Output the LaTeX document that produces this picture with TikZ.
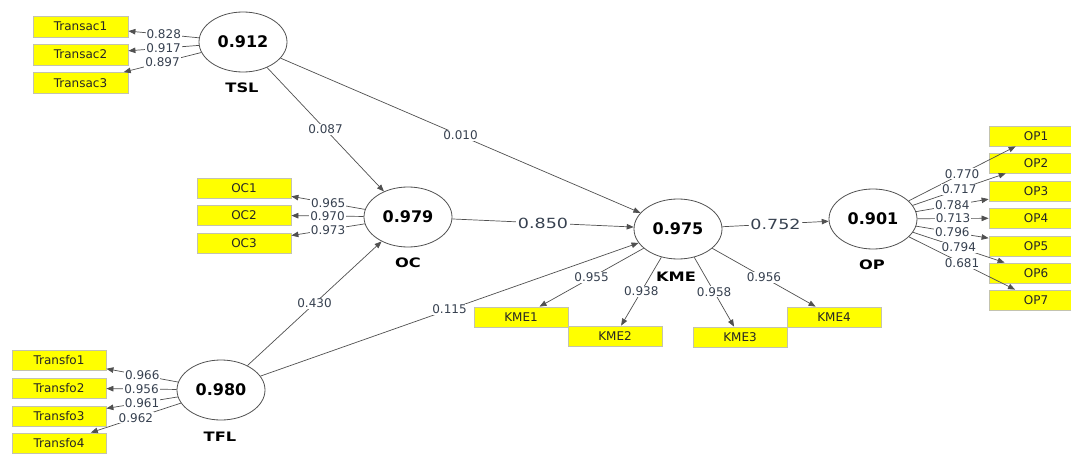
\documentclass[tikz,border=0pt]{standalone}
\usepackage{fontspec}
\setmainfont{DejaVu Sans}
\newfontfamily\stretchfont[FakeStretch=1.25]{DejaVu Sans}
\usetikzlibrary{arrows.meta,shapes.geometric}

\definecolor{boxyellow}{RGB}{255,255,0}
\definecolor{boxedge}{RGB}{195,195,175}
\definecolor{linegray}{RGB}{80,80,80}
\definecolor{numcol}{RGB}{55,65,80}

\tikzset{
  latent/.style={shape=ellipse, draw=linegray, line width=0.8pt, fill=white,
    minimum width=88pt, minimum height=60pt, inner sep=0pt,
    font=\fontsize{16}{18}\selectfont\bfseries},
  indicator/.style={draw=boxedge, line width=0.8pt, fill=boxyellow,
    minimum width=94pt, minimum height=20pt, inner sep=0pt,
    font=\fontsize{12}{14}\selectfont, text=black!85},
  lvname/.style={font=\stretchfont\fontsize{13}{15}\selectfont\bfseries},
  load/.style={draw=linegray, line width=0.7pt,
    -{Triangle[length=7pt,width=5.5pt]}},
  w/.style={fill=white, inner sep=1pt, text=numcol,
    font=\fontsize{12}{14}\selectfont},
  wbig/.style={fill=white, inner sep=1.5pt, text=numcol,
    font=\stretchfont\fontsize{14}{16}\selectfont},
}

\begin{document}
\begin{tikzpicture}[x=1pt,y=-1pt]
\useasboundingbox (0,0) rectangle (1071,455);
\fill[white] (0,0) rectangle (1071,455);
\clip (0,0) rectangle (1071,455);

% latent variables
\node[latent] (TSL) at (243,42) {0.912};
\node[latent] (OC)  at (408,217) {0.979};
\node[latent] (TFL) at (221,390) {0.980};
\node[latent] (KME) at (678,229) {0.975};
\node[latent] (OP)  at (873,219) {0.901};

\node[lvname] (TSLn) at (242,88)  {TSL};
\node[lvname] (OCn)  at (408,263) {OC};
\node[lvname] (TFLn) at (220,437) {TFL};
\node[lvname] (KMEn) at (676,277) {KME};
\node[lvname] (OPn)  at (872,265) {OP};

% indicators
\node[indicator, minimum width=95pt, minimum height=21pt] (Transac1) at (80.5,26.5) {Transac1};
\node[indicator, minimum width=95pt, minimum height=21pt] (Transac2) at (80.5,54.5) {Transac2};
\node[indicator, minimum width=95pt, minimum height=21pt] (Transac3) at (80.5,83)   {Transac3};

\node[indicator] (OC1) at (244,188) {OC1};
\node[indicator] (OC2) at (244,215) {OC2};
\node[indicator] (OC3) at (244,243) {OC3};

\node[indicator] (Transfo1) at (59,360) {Transfo1};
\node[indicator] (Transfo2) at (59,388) {Transfo2};
\node[indicator] (Transfo3) at (59,416) {Transfo3};
\node[indicator] (Transfo4) at (59,443) {Transfo4};

\node[indicator] (KME1) at (521,317) {KME1};
\node[indicator] (KME2) at (615,336) {KME2};
\node[indicator] (KME3) at (740,337) {KME3};
\node[indicator] (KME4) at (834,317) {KME4};

\node[indicator] (OP1) at (1036,136) {OP1};
\node[indicator] (OP2) at (1036,163) {OP2};
\node[indicator] (OP3) at (1036,191) {OP3};
\node[indicator] (OP4) at (1036,218) {OP4};
\node[indicator] (OP5) at (1036,246) {OP5};
\node[indicator] (OP6) at (1036,273) {OP6};
\node[indicator] (OP7) at (1036,300) {OP7};

% outer loadings
\draw[load] (TSL) -- node[w]{0.828} (Transac1);
\draw[load] (TSL) -- node[w]{0.917} (Transac2);
\draw[load] (TSL) -- node[w]{0.897} (Transac3);

\draw[load] (OC) -- node[w]{0.965} (OC1);
\draw[load] (OC) -- node[w]{0.970} (OC2);
\draw[load] (OC) -- node[w]{0.973} (OC3);

\draw[load] (TFL) -- node[w]{0.966} (Transfo1);
\draw[load] (TFL) -- node[w]{0.956} (Transfo2);
\draw[load] (TFL) -- node[w]{0.961} (Transfo3);
\draw[load] (TFL) -- node[w]{0.962} (Transfo4);

\draw[load] (KME) -- node[w]{0.955} (KME1);
\draw[load] (KME) -- node[w]{0.938} (KME2);
\draw[load] (KME) -- node[w]{0.958} (KME3);
\draw[load] (KME) -- node[w]{0.956} (KME4);

\draw[load] (OP) -- node[w]{0.770} (OP1);
\draw[load] (OP) -- node[w]{0.717} (OP2);
\draw[load] (OP) -- node[w]{0.784} (OP3);
\draw[load] (OP) -- node[w]{0.713} (OP4);
\draw[load] (OP) -- node[w]{0.796} (OP5);
\draw[load] (OP) -- node[w]{0.794} (OP6);
\draw[load] (OP) -- node[w]{0.681} (OP7);

% structural paths
\draw[load] (TSL) -- node[w]{0.087} (OC);
\draw[load] (TSL) -- node[w]{0.010} (KME);
\draw[load] (TFL) -- node[w]{0.430} (OC);
\draw[load] (TFL) -- node[w]{0.115} (KME);
\draw[load] (OC)  -- node[wbig]{0.850} (KME);
\draw[load] (KME) -- node[wbig]{0.752} (OP);
\end{tikzpicture}
\end{document}
